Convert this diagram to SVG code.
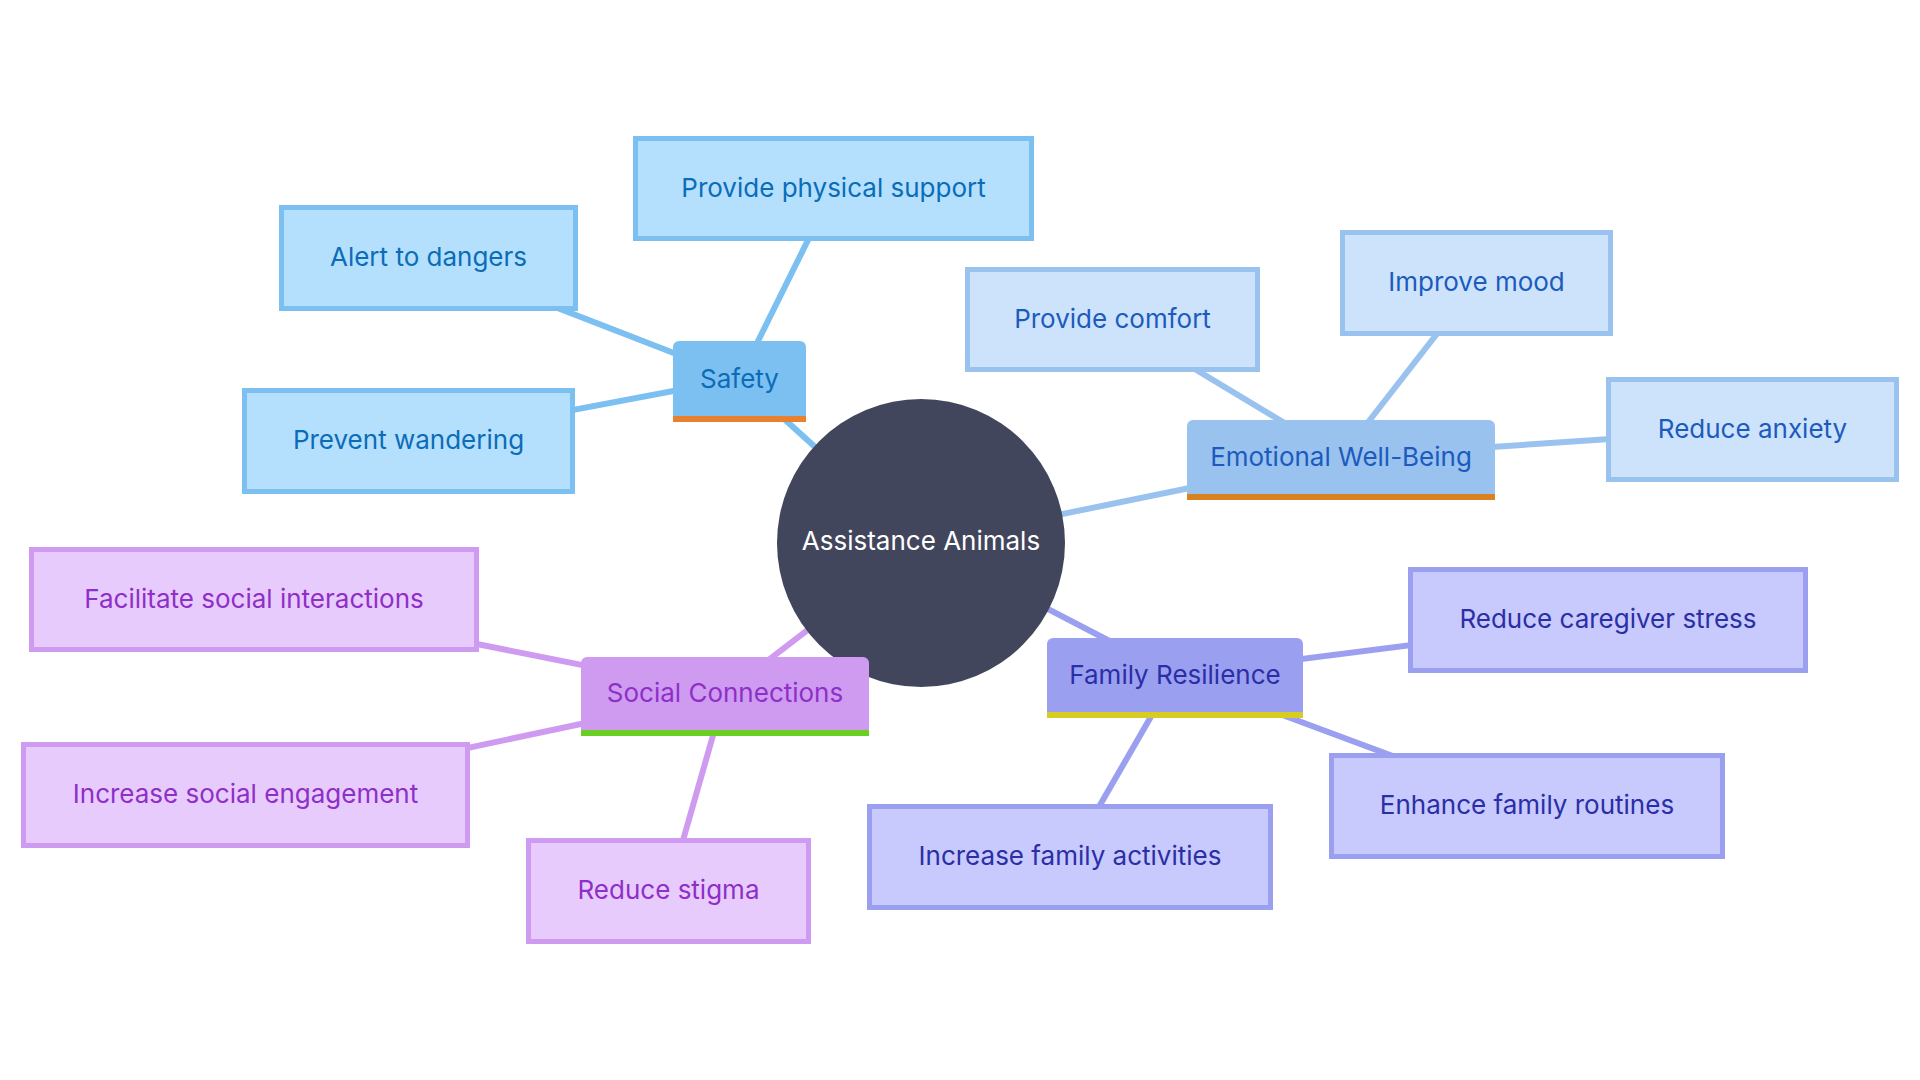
<svg xmlns="http://www.w3.org/2000/svg" width="1920" height="1080" viewBox="0 0 1920 1080">
<style>
text{font-family:Inter,"Noto Sans","Liberation Sans",sans-serif;font-size:26px;text-anchor:middle}
.ln{stroke-width:6;fill:none}
.sa{stroke:#7cc0f1}.em{stroke:#99c2ef}.fa{stroke:#9b9ff0}.so{stroke:#cf9bf1}
.leaf{stroke-width:5}
.lsa{fill:#b4e0fd;stroke:#7cc0f1}.lem{fill:#cde3fb;stroke:#99c2ef}.lfa{fill:#c8c9fc;stroke:#9b9ff0}.lso{fill:#e8cbfd;stroke:#cf9bf1}
.tsa{fill:#0b6cb8}.tem{fill:#1c5bbd}.tfa{fill:#2a2fa6}.tso{fill:#8e2fc8}
</style>
<rect width="1920" height="1080" fill="#ffffff"/>
<g id="connectors">
<line class="ln sa" x1="921" y1="543" x2="739.5" y2="378.5"/>
<line class="ln sa" x1="739.5" y1="378.5" x2="833.5" y2="188.5"/>
<line class="ln sa" x1="739.5" y1="378.5" x2="428.5" y2="258"/>
<line class="ln sa" x1="739.5" y1="378.5" x2="408.5" y2="441"/>
<line class="ln em" x1="921" y1="543" x2="1341" y2="457"/>
<line class="ln em" x1="1341" y1="457" x2="1112.5" y2="319.5"/>
<line class="ln em" x1="1341" y1="457" x2="1476.5" y2="283"/>
<line class="ln em" x1="1341" y1="457" x2="1752.5" y2="429.5"/>
<line class="ln fa" x1="921" y1="543" x2="1175" y2="675"/>
<line class="ln fa" x1="1175" y1="675" x2="1608" y2="620"/>
<line class="ln fa" x1="1175" y1="675" x2="1527" y2="806"/>
<line class="ln fa" x1="1175" y1="675" x2="1070" y2="857"/>
<line class="ln so" x1="921" y1="543" x2="725" y2="693.5"/>
<line class="ln so" x1="725" y1="693.5" x2="254" y2="599.5"/>
<line class="ln so" x1="725" y1="693.5" x2="245.5" y2="795"/>
<line class="ln so" x1="725" y1="693.5" x2="668.5" y2="891"/>
</g>
<g id="root">
<circle cx="921" cy="543" r="144" fill="#42465d"/>
<text x="921" y="550" fill="#ffffff">Assistance Animals</text>
</g>
<g id="safety">
<path d="M673,416 V347 a6,6 0 0 1 6,-6 H800 a6,6 0 0 1 6,6 V416 Z" fill="#7cc0f1"/>
<rect x="673" y="416" width="133" height="6" fill="#e8802e"/>
<text class="tsa" x="739.5" y="388">Safety</text>
</g>
<g id="emotional">
<path d="M1187,494 V426 a6,6 0 0 1 6,-6 H1489 a6,6 0 0 1 6,6 V494 Z" fill="#99c2ef"/>
<rect x="1187" y="494" width="308" height="6" fill="#d98222"/>
<text class="tem" x="1341" y="466">Emotional Well-Being</text>
</g>
<g id="family">
<path d="M1047,712 V644 a6,6 0 0 1 6,-6 H1297 a6,6 0 0 1 6,6 V712 Z" fill="#9b9ff0"/>
<rect x="1047" y="712" width="256" height="6" fill="#d6cc22"/>
<text class="tfa" x="1175" y="684">Family Resilience</text>
</g>
<g id="social">
<path d="M581,730 V663 a6,6 0 0 1 6,-6 H863 a6,6 0 0 1 6,6 V730 Z" fill="#cf9bf1"/>
<rect x="581" y="730" width="288" height="6" fill="#6acf22"/>
<text class="tso" x="725" y="702">Social Connections</text>
</g>
<g id="provide-physical-support"><rect class="leaf lsa" x="635.5" y="138.5" width="396" height="100"/><text class="tsa" x="833.5" y="196.5">Provide physical support</text></g>
<g id="alert-to-dangers"><rect class="leaf lsa" x="281.5" y="207.5" width="294" height="101"/><text class="tsa" x="428.5" y="266">Alert to dangers</text></g>
<g id="prevent-wandering"><rect class="leaf lsa" x="244.5" y="390.5" width="328" height="101"/><text class="tsa" x="408.5" y="449">Prevent wandering</text></g>
<g id="provide-comfort"><rect class="leaf lem" x="967.5" y="269.5" width="290" height="100"/><text class="tem" x="1112.5" y="327.5">Provide comfort</text></g>
<g id="improve-mood"><rect class="leaf lem" x="1342.5" y="232.5" width="268" height="101"/><text class="tem" x="1476.5" y="291">Improve mood</text></g>
<g id="reduce-anxiety"><rect class="leaf lem" x="1608.5" y="379.5" width="288" height="100"/><text class="tem" x="1752.5" y="437.5">Reduce anxiety</text></g>
<g id="facilitate-social-interactions"><rect class="leaf lso" x="31.5" y="549.5" width="445" height="100"/><text class="tso" x="254" y="607.5">Facilitate social interactions</text></g>
<g id="increase-social-engagement"><rect class="leaf lso" x="23.5" y="744.5" width="444" height="101"/><text class="tso" x="245.5" y="803">Increase social engagement</text></g>
<g id="reduce-stigma"><rect class="leaf lso" x="528.5" y="840.5" width="280" height="101"/><text class="tso" x="668.5" y="899">Reduce stigma</text></g>
<g id="reduce-caregiver-stress"><rect class="leaf lfa" x="1410.5" y="569.5" width="395" height="101"/><text class="tfa" x="1608" y="628">Reduce caregiver stress</text></g>
<g id="enhance-family-routines"><rect class="leaf lfa" x="1331.5" y="755.5" width="391" height="101"/><text class="tfa" x="1527" y="814">Enhance family routines</text></g>
<g id="increase-family-activities"><rect class="leaf lfa" x="869.5" y="806.5" width="401" height="101"/><text class="tfa" x="1070" y="865">Increase family activities</text></g>
</svg>
